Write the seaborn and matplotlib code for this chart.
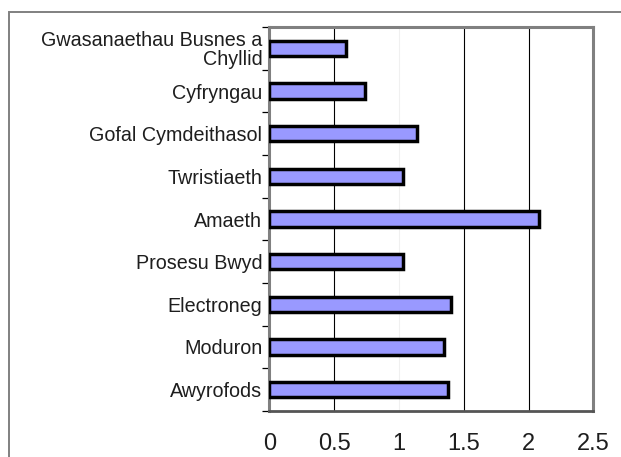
import matplotlib
matplotlib.use("Agg")
import matplotlib.pyplot as plt
import matplotlib.patches as mpatches
from matplotlib.ticker import FixedLocator
import seaborn as sns
import pandas as pd

categories = ["Gwasanaethau Busnes a\nChyllid", "Cyfryngau", "Gofal Cymdeithasol",
              "Twristiaeth", "Amaeth", "Prosesu Bwyd", "Electroneg", "Moduron", "Awyrofods"]
values = [0.59, 0.74, 1.14, 1.03, 2.08, 1.03, 1.40, 1.35, 1.38]
xticks = [0, 0.5, 1, 1.5, 2, 2.5]
xticklabels = ["0", "0.5", "1", "1.5", "2", "2.5"]

sns.set_style("white")
plt.rcParams['font.family'] = ['Liberation Sans', 'DejaVu Sans']

W, H = 621, 457
fig = plt.figure(figsize=(W / 100, H / 100), dpi=100)
fig.patch.set_facecolor("white")

left, right, top, bottom = 269.3, 593.3, 27.0, 411.0
ax = fig.add_axes([left / W, (H - bottom) / H, (right - left) / W, (bottom - top) / H])

df = pd.DataFrame({"cat": categories, "val": values})
sns.barplot(data=df, x="val", y="cat", orient="h", color="#9999ff", saturation=1,
            edgecolor="black", linewidth=2.5, width=0.36, ax=ax, zorder=3)

ax.set_xlim(0, 2.5)
ax.set_ylim(len(categories) - 0.5, -0.5)
ax.set_xlabel("")
ax.set_ylabel("")
ax.set_xticks(xticks)
ax.set_xticklabels(xticklabels, fontsize=17, color="#1e1e1e")
ax.tick_params(axis="x", direction="out", length=5, width=0.9, color="black", pad=11)

# y ticks at category boundaries, labels at centers
ax.yaxis.set_minor_locator(FixedLocator([i - 0.5 for i in range(len(categories) + 1)]))
ax.tick_params(axis="y", which="major", length=0, pad=5, labelsize=14.2, labelcolor="#1e1e1e")
ax.tick_params(axis="y", which="minor", direction="out", length=5, width=0.9, color="black", left=True)
for lbl in ax.get_yticklabels():
    lbl.set_linespacing(1.0)

# gridlines
ax.xaxis.grid(True, color="black", linewidth=0.8, zorder=0)
ax.set_axisbelow(True)
for x, gl in zip(xticks, ax.get_xgridlines()):
    if x == 1:
        gl.set_color("#f0f0f0")
    if x == 0:
        gl.set_visible(False)

for side in ["top", "right", "left"]:
    ax.spines[side].set_visible(True)
    ax.spines[side].set_color("#808080")
    ax.spines[side].set_linewidth(2.2)
ax.spines["bottom"].set_color("#555555")
ax.spines["bottom"].set_linewidth(2.0)

# outer chart frame (cropped at right/bottom)
frame = mpatches.Rectangle((8.5 / W, -0.2), 2.0, (H - 12) / H + 0.2, transform=fig.transFigure,
                           fill=False, edgecolor="#808080", linewidth=1.4, zorder=0)
fig.patches.append(frame)

fig.savefig("out.png", dpi=100)
